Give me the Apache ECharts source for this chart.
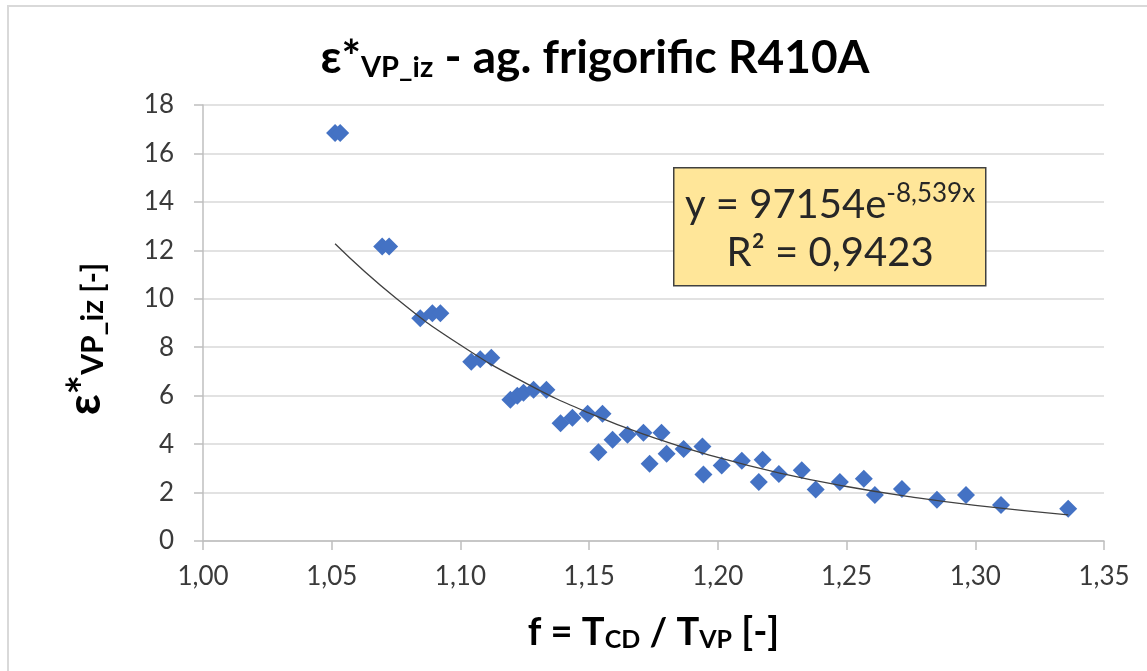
<!DOCTYPE html>
<html>
<head>
<meta charset="utf-8">
<script src="https://cdn.jsdelivr.net/npm/echarts@6/dist/echarts.min.js"></script>
<style>
  html, body { margin: 0; padding: 0; background: #fff; }
  #chart { width: 1147px; height: 671px; }
</style>
</head>
<body>
<div id="chart"></div>
<script>
// measured points: f = Tcd / Tvp  and  eps*VP_iz
var fValues = [1.0513, 1.0533, 1.0696, 1.0723, 1.0844, 1.0891, 1.0922, 1.1042, 1.1077, 1.1120,
  1.1194, 1.1221, 1.1245, 1.1284, 1.1334, 1.1389, 1.1435, 1.1494, 1.1552, 1.1536,
  1.1591, 1.1649, 1.1711, 1.1781, 1.1735, 1.1801, 1.1867, 1.1940, 1.1944, 1.2015,
  1.2093, 1.2174, 1.2159, 1.2237, 1.2326, 1.2380, 1.2474, 1.2567, 1.2610, 1.2715,
  1.2851, 1.2964, 1.3100, 1.3361];
var epsValues = [16.84, 16.84, 12.16, 12.16, 9.2, 9.4, 9.4, 7.4, 7.5, 7.57,
  5.83, 6.0, 6.12, 6.24, 6.24, 4.86, 5.09, 5.25, 5.25, 3.66,
  4.18, 4.39, 4.47, 4.47, 3.19, 3.6, 3.8, 3.9, 2.75, 3.12,
  3.31, 3.35, 2.44, 2.77, 2.92, 2.13, 2.44, 2.57, 1.9, 2.15,
  1.7, 1.9, 1.49, 1.33];

// trend line (exponential fit)
var trendF = [1.0513, 1.075, 1.10, 1.125, 1.15, 1.175, 1.20, 1.225, 1.25, 1.275, 1.30, 1.3361];
var trendEps = [12.27, 10.02, 8.09, 6.54, 5.28, 4.27, 3.45, 2.78, 2.25, 1.82, 1.47, 1.08];

var xTicks = { min: 1.0, max: 1.35, step: 0.05 };
var yTicks = { min: 0, max: 18, step: 2 };

var equationText = 'y = 97154e';
var equationExp = '-8,539x';
var r2Text = 'R² = 0,9423';

var FONT = 'Lato, Carlito, Calibri, sans-serif';

var myChart = echarts.init(document.getElementById('chart'));

var scatterData = fValues.map(function (f, i) { return [f, epsValues[i]]; });
var trendData = trendF.map(function (f, i) { return [f, trendEps[i]]; });

myChart.setOption({
  backgroundColor: '#fff',
  animation: false,
  title: {
    text: '{e|ε*}{sub|VP_iz}{t| - ag. frigorific R410A}',
    left: 590,
    top: 30,
    textAlign: 'center',
    textStyle: {
      rich: {
        e: { fontFamily: FONT, fontWeight: 'bold', fontSize: 46, color: '#000' },
        sub: { fontFamily: FONT, fontWeight: 'bold', fontSize: 29, color: '#000', verticalAlign: 'bottom', padding: [18, 0, 0, 0] },
        t: { fontFamily: FONT, fontWeight: 'bold', fontSize: 46, color: '#000' }
      }
    }
  },
  grid: {
    left: 203,
    right: 43,
    top: 105,
    bottom: 130
  },
  xAxis: {
    type: 'value',
    min: xTicks.min,
    max: xTicks.max,
    interval: xTicks.step,
    name: '{t|f = T}{s|CD}{t| / T}{s|VP}{t| [-]}',
    nameLocation: 'middle',
    nameGap: 72,
    nameTextStyle: {
      rich: {
        t: { fontFamily: FONT, fontWeight: 'bold', fontSize: 38, color: '#000' },
        s: { fontFamily: FONT, fontWeight: 'bold', fontSize: 25, color: '#000', verticalAlign: 'bottom', padding: [14, 0, 0, 0] }
      }
    },
    axisLine: { show: true, onZero: false, lineStyle: { color: '#bfbfbf', width: 1.5 } },
    axisTick: { show: true, length: 9, lineStyle: { color: '#bfbfbf', width: 1.5 } },
    axisLabel: {
      margin: 23,
      fontFamily: FONT,
      fontSize: 26,
      color: '#3a3a3a',
      formatter: function (v) { return v.toFixed(2).replace('.', ','); }
    },
    splitLine: { show: false }
  },
  yAxis: {
    type: 'value',
    min: yTicks.min,
    max: yTicks.max,
    interval: yTicks.step,
    name: '{e|ε*}{s|VP_iz [-]}',
    nameLocation: 'middle',
    nameRotate: 90,
    nameGap: 95,
    nameTextStyle: {
      padding: [0, 32, 0, 0],
      rich: {
        e: { fontFamily: FONT, fontWeight: 'bold', fontSize: 46, color: '#000' },
        s: { fontFamily: FONT, fontWeight: 'bold', fontSize: 30, color: '#000', verticalAlign: 'bottom', padding: [16, 0, 0, 0] }
      }
    },
    axisLine: { show: true, lineStyle: { color: '#bfbfbf', width: 1.5 } },
    axisTick: { show: true, length: 9, lineStyle: { color: '#bfbfbf', width: 1.5 } },
    axisLabel: {
      margin: 29,
      fontFamily: FONT,
      fontSize: 26,
      color: '#3a3a3a'
    },
    splitLine: { show: true, lineStyle: { color: '#d9d9d9', width: 1.5 } }
  },
  series: [
    {
      name: 'eps',
      type: 'scatter',
      symbol: 'diamond',
      symbolSize: 18,
      itemStyle: { color: '#4472c4', opacity: 1 },
      data: scatterData,
      z: 2
    },
    {
      name: 'trend',
      type: 'line',
      data: trendData,
      smooth: true,
      showSymbol: false,
      lineStyle: { color: '#404040', width: 1.3 },
      z: 3
    }
  ],
  graphic: [
    {
      type: 'polyline',
      shape: { points: [[8, 671], [8, 6], [1147, 6]] },
      style: { stroke: '#d9d9d9', lineWidth: 2, fill: null },
      silent: true
    },
    {
      type: 'rect',
      left: 673,
      top: 167,
      z: 100,
      shape: { x: 0, y: 0, width: 312, height: 118 },
      style: { fill: '#ffe699', stroke: '#404040', lineWidth: 1.5 }
    },
    {
      type: 'text',
      x: 830,
      y: 229,
      z: 101,
      style: {
        text: '{a|' + equationText + '}{sup|' + equationExp + '}\n{a|' + r2Text + '}',
        align: 'center',
        verticalAlign: 'middle',
        rich: {
          a: { fontFamily: FONT, fontSize: 40, fill: '#262626', lineHeight: 48 },
          sup: { fontFamily: FONT, fontSize: 26, fill: '#262626', verticalAlign: 'top', padding: [0, 0, 14, 0] }
        }
      }
    }
  ]
});
</script>
</body>
</html>
